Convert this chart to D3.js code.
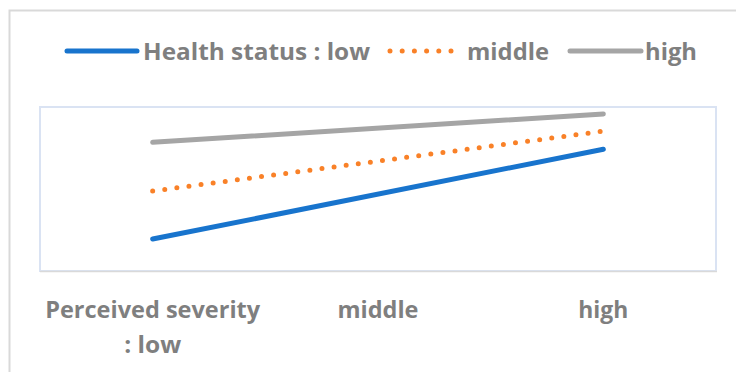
<!DOCTYPE html>
<html>
<head>
<meta charset="utf-8">
<script src="https://cdn.jsdelivr.net/npm/d3@7"></script>
<style>
  html, body { margin: 0; padding: 0; background: #ffffff; }
  svg { display: block; }
  text { font-family: "Open Sans", "Liberation Sans", sans-serif; font-weight: 700; fill: #7f7f7f; }
</style>
</head>
<body>
<div id="chart"></div>
<script>
// Perceived severity categories along the x axis
const categories = ["low", "middle", "high"];
// Axis tick labels (first one wraps onto two lines)
const tickLabels = [["Perceived severity", ": low"], ["middle"], ["high"]];
// Series: mean score by health status (middle severity not reported)
const seriesNames = ["low", "middle", "high"];
const legendLabels = ["Health status : low", "middle", "high"];
const healthLow = [1.78, null, 3.97];
const healthMiddle = [2.95, null, 4.41];
const healthHigh = [4.14, null, 4.83];
const yDomain = [1, 5];

const W = 736, H = 372;
const plot = { left: 40, right: 716, top: 107, bottom: 271 };

const svg = d3.select("#chart").append("svg")
  .attr("width", W).attr("height", H);

// Outer chart frame (only top and left edges fall inside the view)
svg.append("rect")
  .attr("x", 9.5).attr("y", 10.5)
  .attr("width", W + 20).attr("height", H + 20)
  .attr("fill", "none").attr("stroke", "#d9d9d9").attr("stroke-width", 2);

const x = d3.scalePoint().domain(categories)
  .range([plot.left, plot.right]).padding(0.5);
const y = d3.scaleLinear().domain(yDomain)
  .range([plot.bottom, plot.top]);

// Plot area frame
svg.append("rect")
  .attr("x", plot.left).attr("y", plot.top)
  .attr("width", plot.right - plot.left).attr("height", plot.bottom - plot.top)
  .attr("fill", "none").attr("stroke", "#dae3f3").attr("stroke-width", 2);
svg.append("line")
  .attr("x1", plot.left).attr("x2", plot.right + 1)
  .attr("y1", plot.bottom + 0.5).attr("y2", plot.bottom + 0.5)
  .attr("stroke", "#d9d9d9").attr("stroke-width", 1.5);

const series = [
  { name: seriesNames[0], values: healthLow, color: "#1874cd", dash: null },
  { name: seriesNames[1], values: healthMiddle, color: "#f98128", dash: "0 12.2" },
  { name: seriesNames[2], values: healthHigh, color: "#a5a5a5", dash: null }
];

const line = d3.line()
  .x(d => x(d.cat))
  .y(d => y(d.v));

series.forEach(s => {
  const pts = categories.map((c, i) => ({ cat: c, v: s.values[i] }))
    .filter(d => d.v !== null);
  svg.append("path")
    .datum(pts)
    .attr("d", line)
    .attr("fill", "none")
    .attr("stroke", s.color)
    .attr("stroke-width", 5)
    .attr("stroke-linecap", "round")
    .attr("stroke-dasharray", s.dash);
});

// Category axis labels
const tickWidths = [[215, 57], [81], [50]];
const axisG = svg.append("g");
categories.forEach((c, i) => {
  tickLabels[i].forEach((t, j) => {
    axisG.append("text")
      .attr("x", x(c))
      .attr("y", 318 + j * 35)
      .attr("text-anchor", "middle")
      .attr("font-size", 24)
      .attr("textLength", tickWidths[i][j])
      .attr("lengthAdjust", "spacingAndGlyphs")
      .text(t);
  });
});

// Legend
const legendItems = [
  { key: 0, x1: 67, x2: 137, tx: 143, tw: 227 },
  { key: 1, x1: 390, x2: 452, tx: 467, tw: 82 },
  { key: 2, x1: 570, x2: 641, tx: 645, tw: 52 }
];
const legendY = 51;
legendItems.forEach(it => {
  const s = series[it.key];
  svg.append("line")
    .attr("x1", it.x1).attr("x2", it.x2)
    .attr("y1", legendY).attr("y2", legendY)
    .attr("stroke", s.color).attr("stroke-width", 5)
    .attr("stroke-linecap", "round")
    .attr("stroke-dasharray", s.dash);
  svg.append("text")
    .attr("x", it.tx).attr("y", 60)
    .attr("font-size", 24)
    .attr("textLength", it.tw)
    .attr("lengthAdjust", "spacingAndGlyphs")
    .text(legendLabels[it.key]);
});
</script>
</body>
</html>
